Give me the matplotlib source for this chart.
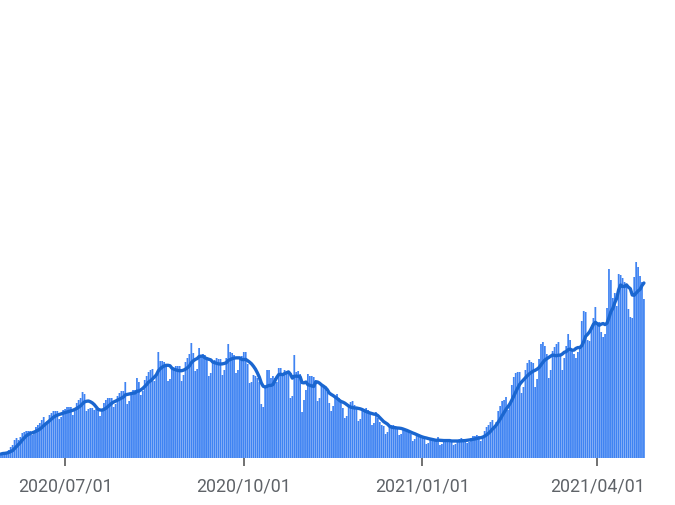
import matplotlib
matplotlib.use("Agg")
import matplotlib.pyplot as plt
import pandas as pd

plt.rcParams['font.family'] = ['Roboto', 'DejaVu Sans']

start_date = "2020-05-29"
daily_values = [
    4, 5, 5, 6, 8, 11, 13,
    18, 20, 18, 21, 25, 26, 27,
    27, 27, 23, 26, 31, 33, 35,
    38, 41, 34, 37, 43, 45, 47,
    47, 47, 39, 41, 48, 49, 51,
    51, 51, 43, 47, 55, 58, 60,
    66, 64, 47, 49, 50, 50, 48,
    49, 48, 42, 48, 55, 58, 60,
    60, 60, 51, 54, 62, 65, 67,
    67, 76, 54, 57, 65, 68, 68,
    80, 76, 63, 67, 78, 82, 86,
    88, 89, 77, 82, 106, 97, 97,
    96, 94, 77, 79, 89, 90, 92,
    92, 92, 77, 83, 96, 100, 104,
    115, 105, 87, 89, 110, 103, 104,
    103, 100, 82, 85, 95, 98, 100,
    99, 99, 83, 88, 100, 114, 106,
    105, 103, 85, 88, 100, 102, 106,
    106, 94, 75, 76, 83, 82, 80,
    76, 54, 51, 71, 88, 88, 80,
    82, 80, 76, 90, 90, 85, 88,
    87, 87, 60, 62, 103, 86, 87,
    84, 46, 58, 68, 84, 82, 82,
    81, 78, 57, 60, 72, 73, 72,
    66, 55, 47, 52, 62, 64, 60,
    56, 50, 40, 42, 52, 56, 57,
    53, 50, 37, 39, 47, 49, 50,
    48, 45, 33, 35, 46, 40, 36,
    33, 32, 24, 26, 32, 33, 33,
    32, 30, 23, 24, 28, 28, 28,
    26, 24, 17, 19, 22, 22, 22,
    21, 20, 14, 15, 19, 19, 19,
    18, 21, 13, 14, 18, 19, 19,
    18, 18, 13, 14, 18, 19, 20,
    19, 19, 15, 16, 20, 22, 22,
    23, 22, 17, 20, 27, 31, 33,
    36, 38, 30, 36, 47, 52, 57,
    58, 61, 48, 56, 73, 81, 85,
    86, 86, 65, 71, 88, 95, 98,
    96, 95, 71, 79, 99, 114, 116,
    112, 104, 80, 88, 107, 111, 114,
    116, 104, 88, 100, 112, 124, 118,
    109, 104, 100, 106, 112, 137, 147,
    146, 118, 117, 131, 140, 151, 136,
    136, 126, 121, 124, 150, 189, 178,
    160, 165, 152, 184, 183, 180, 176,
    172, 149, 141, 140, 181, 196, 191,
    182, 176, 159,
]
tick_dates = ["2020-07-01", "2020-10-01", "2021-01-01", "2021-04-01"]
tick_labels = ["2020/07/01", "2020/10/01", "2021/01/01", "2021/04/01"]

dates = pd.date_range(start_date, periods=len(daily_values), freq="D")
avg7 = pd.Series(daily_values).rolling(7, min_periods=1).mean()

fig = plt.figure(figsize=(6.75, 5.06), dpi=100)
ax = fig.add_axes([0, 47 / 506, 1, 459 / 506])
ax.bar(dates, daily_values, width=0.9, color="#3f83f2", edgecolor="none",
       linewidth=0, snap=False, antialiased=True)
ax.plot(dates, avg7, color="#1a66d0", lw=2.4,
        solid_joinstyle="round", solid_capstyle="round")

ax.set_xlim(dates[0] - pd.Timedelta(days=0.5), dates[0] + pd.Timedelta(days=347))
ax.set_ylim(0, 459)
ax.set_xticks(pd.to_datetime(tick_dates))
ax.set_xticklabels(tick_labels)
ax.set_yticks([])
for s in ax.spines.values():
    s.set_visible(False)
ax.tick_params(axis="x", length=6, width=1.3, color="#666666",
               labelcolor="#5f6368", labelsize=12.8, pad=7)
ax.set_facecolor("white")
fig.savefig("out.png", dpi=100, facecolor="white")
